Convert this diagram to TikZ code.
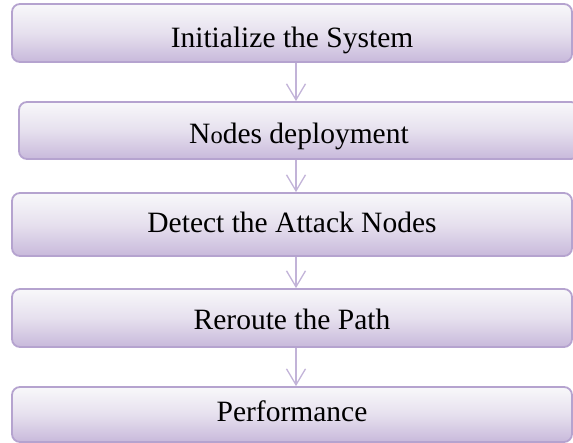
\documentclass[tikz,border=0pt]{standalone}
\usepackage{fontspec}
\setmainfont{Liberation Serif}
\usetikzlibrary{arrows.meta}
\definecolor{boxline}{HTML}{B5A3CF}
\definecolor{boxtop}{HTML}{F8F8FA}
\definecolor{boxmid}{HTML}{E6E0EE}
\definecolor{boxbot}{HTML}{C8B9DB}
\definecolor{arrcol}{HTML}{C2B3D8}
\newcommand{\boxtext}[2]{\raisebox{-#1pt}[0pt][0pt]{#2}}
\tikzset{
  stepbox/.style={draw=boxline, line width=1.8pt, rounded corners=8pt,
    top color=boxtop, bottom color=boxbot, middle color=boxmid,
    minimum width=560pt, inner sep=0pt, text=black,
    font=\fontsize{29.5}{32}\selectfont},
  arr/.style={draw=arrcol, line width=1.3pt,
    -{Straight Barb[length=16pt,width=19pt,line width=1.3pt]}}
}
\begin{document}
\begin{tikzpicture}[x=1pt,y=-1pt]
\useasboundingbox (0,0) rectangle (573,442);
\node[stepbox, minimum height=58pt] (b1) at (292,33) {\boxtext{14}{Initialize the System}};
\node[stepbox, minimum height=57pt] (b2) at (299,130.5) {\boxtext{12.5}{N{\fontsize{24.5}{26}\selectfont o}des deployment}};
\node[stepbox, minimum height=63pt] (b3) at (292,224.5) {\boxtext{8}{Detect the Attack Nodes}};
\node[stepbox, minimum height=58pt] (b4) at (292,318) {\boxtext{11.5}{Reroute the Path}};
\node[stepbox, minimum height=55pt] (b5) at (292,414.5) {\boxtext{7}{Performance}};
\draw[arr] ([xshift=4pt]b1.south) -- ([xshift=4pt]b1.south |- b2.north);
\draw[arr] ([xshift=-3pt]b2.south) -- ([xshift=-3pt]b2.south |- b3.north);
\draw[arr] ([xshift=4pt]b3.south) -- ([xshift=4pt]b3.south |- b4.north);
\draw[arr] ([xshift=4pt]b4.south) -- ([xshift=4pt]b4.south |- b5.north);
\end{tikzpicture}
\end{document}
